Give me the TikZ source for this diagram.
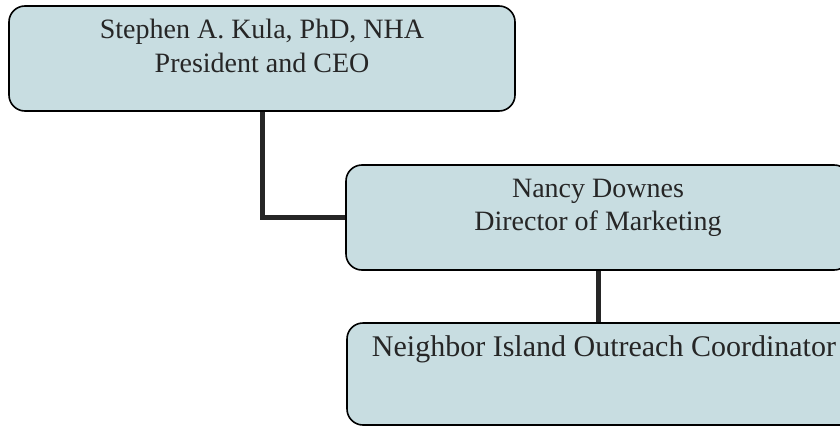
\documentclass[tikz,border=0pt]{standalone}
\usepackage{fontspec}
\setmainfont{Liberation Serif}
\begin{document}
\begin{tikzpicture}[x=1pt,y=-1pt,
  box/.style={draw=black, line width=1.6pt, fill=boxfill, rounded corners=16pt, inner sep=0pt},
  lbl/.style={font=\fontsize{28}{33}\selectfont, text=black!85, inner sep=0pt, anchor=base},
  conn/.style={draw=black!85, line width=5pt}]
\definecolor{boxfill}{HTML}{C8DDE1}
\clip (0,0) rectangle (840,428);
\fill[white] (0,0) rectangle (840,428);
% boxes
\node[box, minimum width=506pt, minimum height=105pt] (b1) at (262,58.5) {};
\node[box, minimum width=504pt, minimum height=105pt] (b2) at (598,217.5) {};
\node[box, minimum width=514pt, minimum height=102pt] (b3) at (604,374) {};
% connectors
\draw[conn] (b1.south) |- (b2.west);
\draw[conn] (b2.south) -- (b2.south |- b3.north);
% texts
\node[lbl] (t1a) at (262,39) {Stephen A. Kula, PhD, NHA};
\node[lbl] (t1b) at (262,72) {President and CEO};
\node[lbl] (t2a) at (598,197) {Nancy Downes};
\node[lbl] (t2b) at (598,230) {Director of Marketing};
\node[lbl, font=\fontsize{30}{35}\selectfont] (t3) at (604,356) {Neighbor Island Outreach Coordinator};
\end{tikzpicture}
\end{document}
